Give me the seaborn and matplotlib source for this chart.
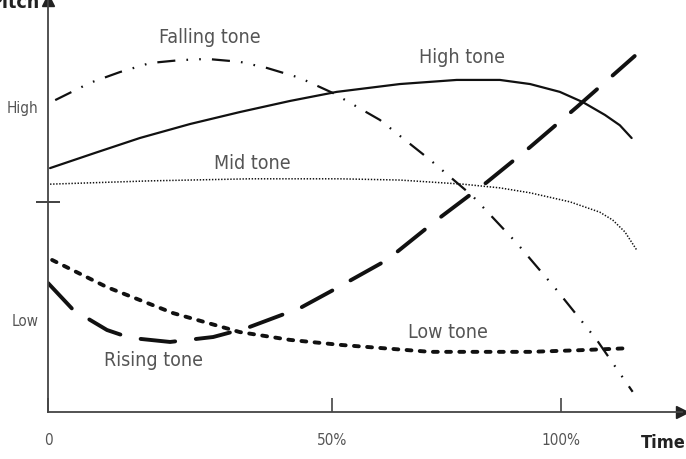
import numpy as np
import pandas as pd
import seaborn as sns
import matplotlib.pyplot as plt

# ---- data (time position on axis, pitch height 0-100) ----
high_x = [0.4, 9.2, 17.9, 27.7, 37.4, 47.2, 56.3, 68.6, 79.7, 88.1, 94.0, 99.8, 104.3, 108.6, 111.5, 113.8]
high_y = [59.2, 62.9, 66.5, 69.9, 72.8, 75.5, 77.7, 79.6, 80.6, 80.6, 79.6, 77.7, 75.2, 72.1, 69.6, 66.5]

fall_x = [1.4, 8.2, 14.0, 19.9, 25.7, 31.0, 37.4, 42.7, 49.1, 55.6, 64.7, 74.5, 82.8, 91.4, 99.2, 107.0, 114.0]
fall_y = [75.7, 79.9, 82.5, 84.7, 85.4, 85.7, 85.0, 83.5, 81.1, 77.4, 70.9, 61.2, 52.4, 41.0, 29.6, 17.5, 4.9]

mid_x = [0.4, 19.9, 39.4, 56.9, 68.6, 80.9, 88.1, 94.0, 101.8, 107.6, 110.1, 112.5, 114.8]
mid_y = [55.3, 56.1, 56.6, 56.6, 56.3, 55.3, 54.4, 53.2, 51.0, 48.5, 46.6, 43.7, 39.3]

rise_x = [0.0, 4.9, 11.5, 16.0, 23.8, 32.2, 38.8, 49.1, 55.6, 66.1, 75.8, 85.6, 94.0, 103.1, 114.4]
rise_y = [31.3, 24.8, 19.9, 18.0, 17.0, 18.2, 20.4, 25.2, 29.6, 36.9, 46.6, 55.8, 64.3, 74.0, 86.4]

low_x = [0.8, 11.5, 24.4, 37.4, 47.2, 56.9, 74.5, 94.0, 103.7, 113.5]
low_y = [36.9, 30.3, 24.0, 19.4, 17.5, 16.3, 14.6, 14.6, 15.0, 15.5]

time_ticks = [0, 55.4, 100]
time_labels = ["0", "50%", "100%"]
pitch_labels = ["High", "Low"]
pitch_label_pos = [74.0, 22.3]
mid_mark = 51.0

sns.set_theme(style="white")
plt.rcParams['font.family'] = ['DejaVu Sans']
plt.rcParams['font.stretch'] = 'condensed'
plt.rcParams['lines.scale_dashes'] = False

TXT = "#555555"
LN = "#111111"

fig = plt.figure(figsize=(6.86, 4.59), dpi=100)
ax = fig.add_axes([0.0700, 0.1024, 0.924, 0.8976])

def draw(x, y, lw, ls, cap="butt"):
    df = pd.DataFrame({"t": x, "p": y})
    sns.lineplot(data=df, x="t", y="p", ax=ax, color=LN, linewidth=lw,
                 linestyle=ls, sort=False, dash_capstyle=cap, solid_capstyle="round",
                 solid_joinstyle="round")

draw(high_x, high_y, 1.6, "-")
draw(fall_x, fall_y, 1.6, (0, (13, 8, 1.2, 8, 1.2, 8)))
draw(mid_x, mid_y, 1.1, (0, (1.0, 1.2)))
draw(rise_x, rise_y, 2.8, (0, (25, 15)), cap="round")
draw(low_x, low_y, 2.8, (0, (3.5, 6.0)), cap="round")

ax.set_xlim(0, 123.6)
ax.set_ylim(0, 100)
ax.set_xlabel("")
ax.set_ylabel("")

for s in ["top", "right"]:
    ax.spines[s].set_visible(False)
for s in ["left", "bottom"]:
    ax.spines[s].set_color("#444444")
    ax.spines[s].set_linewidth(1.3)

ax.plot(1, 0, ">", color="#222222", ms=8, transform=ax.get_yaxis_transform(), clip_on=False)
ax.plot(0, 1, "^", color="#222222", ms=8, transform=ax.get_xaxis_transform(), clip_on=False)

ax.set_xticks(time_ticks)
ax.set_xticklabels(time_labels)
ax.tick_params(axis="x", direction="in", length=10, width=1.2, color="#444444",
               pad=15, labelsize=11, labelcolor=TXT, bottom=True)

ax.set_yticks(pitch_label_pos)
ax.set_yticklabels(pitch_labels)
ax.tick_params(axis="y", which="major", length=0, pad=7, labelsize=11, labelcolor=TXT, left=True)
ax.set_yticks([mid_mark], minor=True)
ax.tick_params(axis="y", which="minor", direction="inout", length=17, width=1.3,
               color="#333333", left=True)

lab = dict(color=TXT, fontsize=14, ha="center", va="center")
ax.text(31.5, 90.8, "Falling tone", **lab)
ax.text(80.7, 86.0, "High tone", **lab)
ax.text(39.8, 60.4, "Mid tone", **lab)
ax.text(20.5, 12.6, "Rising tone", **lab)
ax.text(78.0, 19.2, "Low tone", **lab)

fig.text(40 / 686, (459 - 8) / 459, "Pitch", ha="right", va="baseline",
         fontsize=14, fontweight="bold", color="#222222")
fig.text(641 / 686, (459 - 443) / 459, "Time", ha="left", va="center",
         fontsize=13, fontweight="bold", color="#222222")

fig.savefig("out.png", dpi=100)
